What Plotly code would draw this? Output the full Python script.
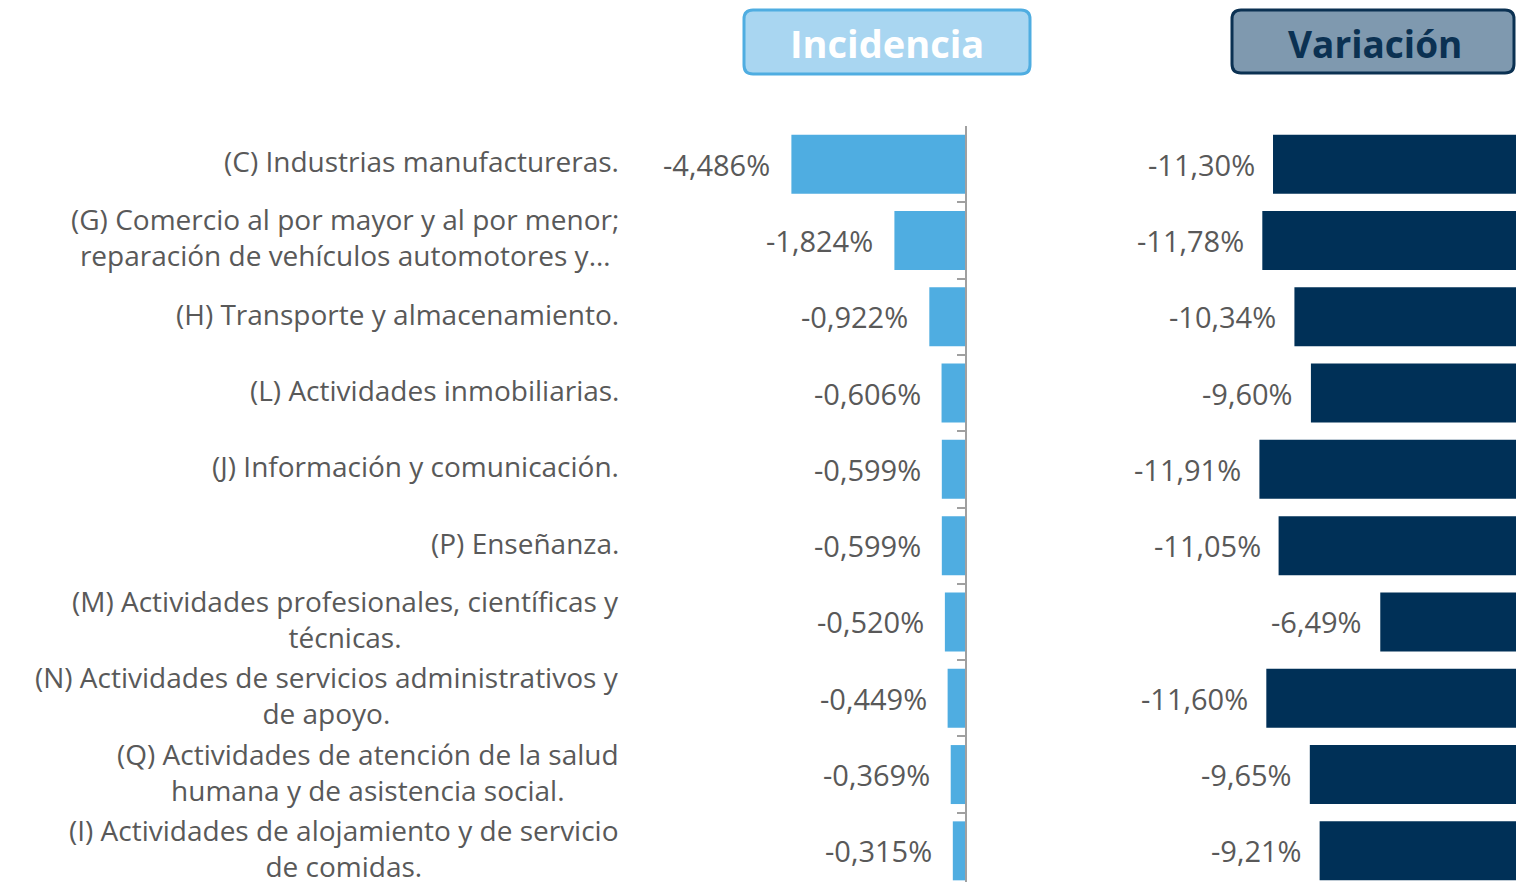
import plotly.graph_objects as go

# ---------------- data ----------------
categories = [
    "(C) Industrias manufactureras.",
    "(G) Comercio al por mayor y al por menor;<br>reparación de vehículos automotores y…",
    "(H) Transporte y almacenamiento.",
    "(L) Actividades inmobiliarias.",
    "(J) Información y comunicación.",
    "(P) Enseñanza.",
    "(M) Actividades profesionales, científicas y<br>técnicas.",
    "(N) Actividades de servicios administrativos y<br>de apoyo.",
    "(Q) Actividades de atención de la salud<br>humana y de asistencia social.",
    "(I) Actividades de alojamiento y de servicio<br>de comidas.",
]
incidencia = [-4.486, -1.824, -0.922, -0.606, -0.599, -0.599, -0.520, -0.449, -0.369, -0.315]
variacion = [-11.30, -11.78, -10.34, -9.60, -11.91, -11.05, -6.49, -11.60, -9.65, -9.21]
titles = ["Incidencia", "Variación"]

# ---------------- styling ----------------
W, H = 1516, 882
FONT = "Open Sans"
GRAY = "#595959"
C_INC = "#4FADE1"
C_VAR = "#003057"


def X(px):
    return px / W


def Y(py):
    return 1 - py / H


fig = go.Figure()
fig.add_trace(go.Bar(y=categories, x=incidencia, orientation="h",
                     marker=dict(color=C_INC, line=dict(width=0)),
                     xaxis="x", yaxis="y", hoverinfo="x+y"))
fig.add_trace(go.Bar(y=categories, x=variacion, orientation="h",
                     marker=dict(color=C_VAR, line=dict(width=0)),
                     xaxis="x2", yaxis="y2", hoverinfo="x+y"))

annotations = []
for cat, v in zip(categories, incidencia):
    annotations.append(dict(x=v, y=cat, xref="x", yref="y", text=f"{v:.3f}%".replace(".", ","),
                            xanchor="right", xshift=-19, showarrow=False,
                            font=dict(family=FONT, size=29, color=GRAY)))
for cat, v in zip(categories, variacion):
    annotations.append(dict(x=v, y=cat, xref="x2", yref="y2", text=f"{v:.2f}%".replace(".", ","),
                            xanchor="right", xshift=-16, showarrow=False,
                            font=dict(family=FONT, size=29, color=GRAY)))
for cat in categories:
    annotations.append(dict(x=X(621), y=cat, xref="paper", yref="y", text=cat,
                            xanchor="right", align="center", showarrow=False, yshift=3,
                            font=dict(family=FONT, size=28, color=GRAY)))


def rrect(x0, y0, x1, y1, r):
    return (f"M {X(x0 + r)},{Y(y0)} L {X(x1 - r)},{Y(y0)} Q {X(x1)},{Y(y0)} {X(x1)},{Y(y0 + r)} "
            f"L {X(x1)},{Y(y1 - r)} Q {X(x1)},{Y(y1)} {X(x1 - r)},{Y(y1)} "
            f"L {X(x0 + r)},{Y(y1)} Q {X(x0)},{Y(y1)} {X(x0)},{Y(y1 - r)} "
            f"L {X(x0)},{Y(y0 + r)} Q {X(x0)},{Y(y0)} {X(x0 + r)},{Y(y0)} Z")


shapes = [
    dict(type="path", xref="paper", yref="paper", path=rrect(744, 10, 1030, 74, 9),
         fillcolor="#A9D6F1", line=dict(color="#4FADE1", width=3)),
    dict(type="path", xref="paper", yref="paper", path=rrect(1232, 10, 1514, 73, 9),
         fillcolor="#7F99AF", line=dict(color="#0B3152", width=3)),
]
annotations.append(dict(x=X(887), y=Y(43), xref="paper", yref="paper", text=f"<b>{titles[0]}</b>",
                        showarrow=False, xanchor="center", yanchor="middle",
                        font=dict(family=FONT, size=38, color="white")))
annotations.append(dict(x=X(1375), y=Y(43), xref="paper", yref="paper", text=f"<b>{titles[1]}</b>",
                        showarrow=False, xanchor="center", yanchor="middle",
                        font=dict(family=FONT, size=37, color="#0B3152")))

inc_zero, inc_scale, inc_left = 965, 38.7, 650
var_zero, var_scale, var_left = 1525, 22.3, 1100
row_top, row_h = 126, 76.3
y_bottom = -0.5 + (H - row_top) / row_h

fig.update_layout(
    width=W, height=H, margin=dict(l=0, r=0, t=0, b=0, pad=0),
    paper_bgcolor="white", plot_bgcolor="white",
    showlegend=False, bargap=0.227,
    separators=",.",
    annotations=annotations, shapes=shapes,
    xaxis=dict(domain=[X(inc_left), X(inc_zero)],
               range=[-(inc_zero - inc_left) / inc_scale, 0],
               visible=False, fixedrange=True),
    xaxis2=dict(domain=[X(var_left), 1],
                range=[-(var_zero - var_left) / var_scale, -(var_zero - W) / var_scale],
                visible=False, fixedrange=True),
    yaxis=dict(domain=[0, 1 - row_top / H], type="category", categoryarray=categories,
               range=[y_bottom, -0.5], anchor="x", side="right", fixedrange=True,
               showline=True, linecolor="#A0A0A0", linewidth=2,
               ticks="inside", tickson="boundaries", ticklen=8, tickcolor="#A0A0A0", tickwidth=2,
               showticklabels=False, showgrid=False, zeroline=False),
    yaxis2=dict(domain=[0, 1 - row_top / H], type="category", categoryarray=categories,
                range=[y_bottom, -0.5], anchor="x2", matches="y", fixedrange=True,
                visible=False, showgrid=False),
)

fig.write_html(
    "out.html",
    config={"displayModeBar": False},
    post_script="document.body.style.margin='0';document.body.style.overflow='hidden';",
)
